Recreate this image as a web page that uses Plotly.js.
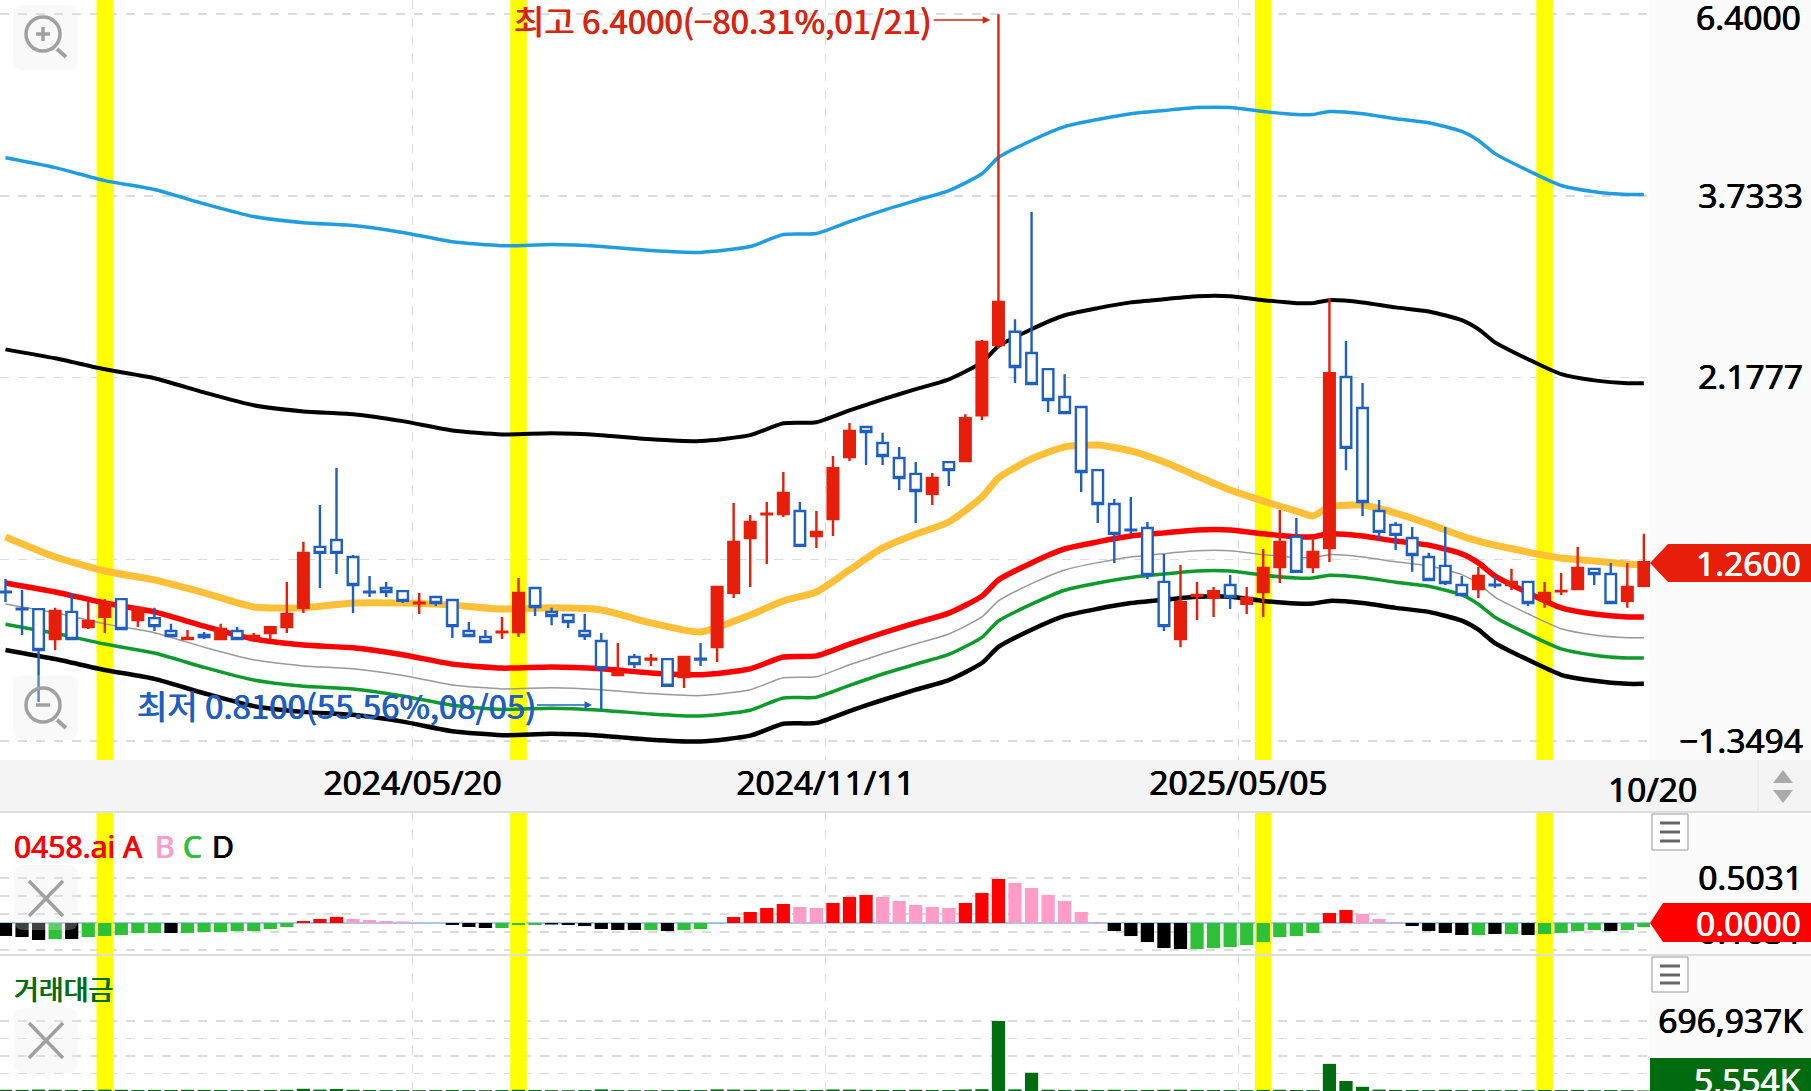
<!DOCTYPE html>
<html><head><meta charset="utf-8">
<script src="https://cdn.plot.ly/plotly-3.0.1.min.js"></script>
<style>html,body{margin:0;padding:0;background:#fff;overflow:hidden}</style>
</head><body><div id="chart" style="width:1811px;height:1091px"></div>
<script>
const opens=[1.154,1.097,1.096,1.003,1.087,1.039,1.071,1.129,1.061,1.067,1.027,1.003,1.015,1.003,1.027,1.006,1.021,1.039,1.100,1.318,1.345,1.279,1.154,1.167,1.156,1.115,1.136,1.126,1.027,1.009,1.023,1.024,1.167,1.087,1.077,1.027,.997,.901,.951,.944,.945,.896,.946,.979,1.150,1.353,1.452,1.453,1.466,1.361,1.432,1.721,1.881,1.794,1.716,1.637,1.543,1.695,1.700,1.948,2.399,2.495,2.343,2.233,2.056,1.996,1.655,1.497,1.387,1.394,1.188,1.003,1.139,1.133,1.177,1.113,1.153,1.242,1.358,1.242,1.314,2.182,1.990,1.466,1.407,1.353,1.279,1.246,1.177,1.163,1.178,1.177,1.188,1.126,1.155,1.163,1.235,1.216,1.123,1.174];
const highs=[1.198,1.160,1.096,1.100,1.150,1.119,1.129,1.129,1.103,1.100,1.049,1.030,1.024,1.049,1.039,1.021,1.039,1.188,1.338,1.492,1.665,1.287,1.209,1.188,1.156,1.150,1.136,1.126,1.055,1.030,1.071,1.202,1.167,1.100,1.077,1.080,1.021,.991,.959,.959,.945,.951,.991,1.170,1.501,1.449,1.506,1.646,1.506,1.466,1.726,1.904,1.881,1.849,1.773,1.695,1.641,1.695,1.954,2.435,6.400,2.590,3.558,2.233,2.200,1.996,1.655,1.519,1.528,1.419,1.291,1.249,1.188,1.170,1.213,1.170,1.310,1.471,1.436,1.353,2.756,2.428,2.143,1.515,1.419,1.398,1.295,1.398,1.209,1.242,1.209,1.235,1.191,1.188,1.220,1.318,1.235,1.257,1.257,1.370];
const lows=[1.119,1.015,.832,.971,1.003,1.033,1.021,1.033,1.039,1.027,1.012,1.000,1.003,1.003,1.003,1.003,1.003,1.021,1.083,1.167,1.216,1.083,1.136,1.136,1.116,1.080,1.106,1.006,1.012,.994,1.003,1.009,1.074,1.045,1.036,1.000,.813,.901,.920,.926,.873,.867,.926,.937,1.133,1.170,1.253,1.440,1.318,1.314,1.361,1.700,1.680,1.680,1.560,1.415,1.492,1.579,1.700,1.920,2.376,2.143,2.137,1.966,1.960,1.551,1.415,1.257,1.370,1.198,1.027,.979,1.061,1.071,1.096,1.080,1.071,1.184,1.224,1.220,1.260,1.655,1.445,1.349,1.306,1.224,1.195,1.177,1.143,1.133,1.167,1.160,1.106,1.100,1.143,1.163,1.177,1.116,1.100,1.174];
const closes=[1.152,1.095,.971,1.090,1.003,1.058,1.116,1.033,1.100,1.042,1.012,1.006,1.009,1.033,1.003,1.012,1.039,1.080,1.295,1.295,1.295,1.177,1.152,1.153,1.123,1.117,1.116,1.042,1.012,.994,1.025,1.150,1.103,1.074,1.055,1.012,.920,.909,.931,.946,.873,.951,.944,1.170,1.338,1.419,1.454,1.547,1.322,1.378,1.665,1.859,1.853,1.726,1.617,1.556,1.617,1.655,1.931,2.421,2.726,2.247,2.137,2.038,1.960,1.646,1.497,1.370,1.385,1.213,1.042,1.119,1.143,1.156,1.136,1.133,1.238,1.338,1.224,1.298,2.207,1.768,1.506,1.378,1.366,1.287,1.195,1.184,1.143,1.209,1.176,1.188,1.116,1.150,1.157,1.238,1.216,1.116,1.170,1.260];

const lineIdx=[0,3,6,9,12,15,18,21,24,27,30,33,36,39,42,45,47,49,51,53,55,57,59,60,62,64,66,68,70,72,74,76,78,79,80,82,84,86,88,89,90,92,94,96,98,99];
const bandBlue=[4.180,4.060,3.906,3.805,3.647,3.511,3.448,3.420,3.350,3.259,3.220,3.231,3.213,3.175,3.157,3.213,3.329,3.339,3.458,3.574,3.682,3.791,3.987,4.183,4.400,4.585,4.683,4.764,4.809,4.851,4.851,4.795,4.753,4.753,4.795,4.764,4.694,4.638,4.519,4.400,4.232,4.025,3.850,3.780,3.749,3.749];
const bandUpper=[2.368,2.306,2.232,2.174,2.084,2.006,1.970,1.954,1.914,1.862,1.840,1.846,1.836,1.814,1.804,1.836,1.902,1.908,1.976,2.042,2.104,2.166,2.278,2.390,2.514,2.620,2.676,2.722,2.748,2.772,2.772,2.740,2.716,2.716,2.740,2.722,2.682,2.650,2.582,2.514,2.418,2.300,2.200,2.160,2.142,2.142];
const maOrange=[1.357,1.279,1.227,1.195,1.150,1.103,1.100,1.116,1.116,1.109,1.096,1.100,1.093,1.052,1.024,1.077,1.123,1.153,1.231,1.314,1.369,1.419,1.528,1.617,1.711,1.773,1.783,1.752,1.695,1.626,1.560,1.510,1.466,1.445,1.484,1.492,1.457,1.411,1.361,1.341,1.325,1.298,1.275,1.264,1.253,1.249];
const bandRed=[1.184,1.153,1.116,1.087,1.042,1.003,.985,.977,.957,.931,.920,.923,.918,.907,.902,.918,.951,.954,.988,1.021,1.052,1.083,1.139,1.195,1.257,1.310,1.338,1.361,1.374,1.386,1.386,1.370,1.358,1.358,1.370,1.361,1.341,1.325,1.291,1.257,1.209,1.150,1.100,1.080,1.071,1.071];
const bandGray=[1.113,1.084,1.049,1.022,.979,.943,.926,.918,.900,.875,.865,.868,.863,.853,.848,.863,.894,.897,.929,.960,.989,1.018,1.071,1.123,1.182,1.231,1.258,1.279,1.292,1.303,1.303,1.288,1.277,1.277,1.288,1.279,1.261,1.246,1.214,1.182,1.136,1.081,1.034,1.015,1.007,1.007];
const bandGreen=[1.048,1.020,.988,.962,.922,.888,.872,.865,.847,.824,.814,.817,.812,.803,.798,.812,.842,.844,.874,.904,.931,.958,1.008,1.058,1.112,1.159,1.184,1.204,1.216,1.227,1.227,1.212,1.202,1.202,1.212,1.204,1.187,1.173,1.143,1.112,1.070,1.018,.974,.956,.948,.948];
const bandLower=[.971,.945,.915,.891,.854,.822,.808,.801,.785,.763,.754,.757,.753,.744,.740,.753,.780,.782,.810,.837,.863,.888,.934,.980,1.031,1.074,1.097,1.116,1.127,1.137,1.137,1.123,1.114,1.114,1.123,1.116,1.100,1.087,1.059,1.031,.991,.943,.902,.886,.878,.878];

const oscValues=[-.145,-.157,-.19,-.179,-.179,-.157,-.145,-.134,-.112,-.112,-.112,-.112,-.101,-.101,-.09,-.09,-.067,-.045,.022,.045,.067,.045,.034,.022,.017,.005,.003,-.022,-.045,-.056,-.056,-.022,-.022,-.017,-.022,-.034,-.067,-.078,-.078,-.078,-.09,-.078,-.067,-.003,.067,.123,.168,.213,.179,.168,.224,.291,.314,.291,.246,.202,.179,.168,.224,.336,.492,.448,.392,.314,.246,.123,.011,-.09,-.146,-.213,-.28,-.291,-.291,-.28,-.269,-.246,-.213,-.157,-.146,-.112,.112,.146,.101,.045,.011,-.034,-.09,-.112,-.134,-.134,-.123,-.123,-.134,-.123,-.112,-.09,-.078,-.09,-.078,-.045];
const oscState=("DDDCDCCCCCDCCCCCCC"+"AAA"+"BBBBBB"+"DDD"+"CCC"+"DDDDDD"+"CDCCC"+"AAAA"+"BB"+"AAA"+"BBBBB"+"AAA"+"BBBBBB"+"DDDDD"+"CCCCCCCC"+"AA"+"BBB"+"DDDD"+"CDCD"+"CCCC"+"D"+"CC").split("");
const volumes=[12000,11000,14000,12000,11000,10000,13000,12000,10000,11000,10000,12000,11000,10000,9000,10000,11000,12000,22000,14000,20000,12000,10000,9000,9000,8000,9000,10000,9000,8000,9000,12000,10000,9000,8000,9000,16000,9000,8000,8000,9000,10000,9000,16000,14000,12000,13000,12000,11000,10000,15000,14000,12000,11000,11000,12000,10000,10000,15000,18000,696937,16000,182000,13000,11000,12000,10000,12000,9000,11000,12000,13000,11000,10000,9000,9000,11000,12000,10000,9000,270000,100000,42000,14000,11000,10000,9000,12000,9000,10000,9000,9000,9000,10000,9000,11000,8000,9000,9000,5554];

const priceTicks=[6.4,3.7333,2.1777,1.27,0.741];
const priceTickText=["","3.7333","2.1777","","−1.3494"];
const oscTicks=[.5031,.3019,.1006,-.1006,-.3019];
const oscTickText=["0.5031","","","−0.1031",""];
const volTicks=[174234,348468,522703,696937];
const volTickText=["","","","696,937K"];
const dateTicks=[24.6,49.55,74.5];
const dateLabels=["2024/05/20","2024/11/11","2025/05/05"];
const highlightBars=[6,31,76,93];

const W=1811,H=1091,PLOT_R=1650;
const fx=x=>x/W, fy=y=>1-y/H;
const dom=(t,b)=>[1-b/H,1-t/H];
const xRange=[-0.332,99.37];
const FONT='"Noto Sans","Noto Sans CJK KR",sans-serif';
const KR='"Noto Sans CJK KR","Noto Sans",sans-serif';
const GRID='#dcdcdc';
const idx=opens.map((_,i)=>i);
const oscColor={A:'#ff0000',B:'#ff9cc8',C:'#2ec038',D:'#000000'};
const thick=c=>'0.45px 0 0 '+c+',-0.45px 0 0 '+c;

function line(y,color,width){return {type:'scatter',mode:'lines',x:lineIdx,y:y,xaxis:'x',yaxis:'y',line:{color:color,width:width,shape:'spline',smoothing:0.6},hoverinfo:'skip'};}
const traces=[
 line(bandBlue,'#1f9de0',3.5),
 line(bandUpper,'#000000',4),
 line(maOrange,'#ffbf36',7),
 line(bandGray,'#999999',1.5),
 line(bandGreen,'#0f9a2c',3.5),
 line(bandLower,'#000000',4.5),
 line(bandRed,'#ff0000',5.5),
 {type:'candlestick',x:idx,open:opens,high:highs,low:lows,close:closes,xaxis:'x',yaxis:'y4',
  whiskerwidth:0,line:{width:2.4},
  increasing:{line:{color:'#e61e0a',width:2.4},fillcolor:'#e61e0a'},
  decreasing:{line:{color:'#1f5fc4',width:2.4},fillcolor:'#ffffff'},hoverinfo:'skip'},
 {type:'bar',x:idx,y:oscValues,xaxis:'x2',yaxis:'y2',width:0.8,marker:{color:oscState.map(s=>oscColor[s]),line:{width:0}},hoverinfo:'skip'},
 {type:'bar',x:idx,y:volumes,xaxis:'x3',yaxis:'y3',width:0.8,marker:{color:'#006b0f',line:{width:0}},hoverinfo:'skip'}
];

const rect=(x0,y0,x1,y1,fill,layer,lineCol)=>({type:'rect',xref:'paper',yref:'paper',x0:fx(x0),x1:fx(x1),y0:fy(y1),y1:fy(y0),fillcolor:fill,layer:layer||'below',line:lineCol?{color:lineCol,width:1}:{width:0}});
const seg=(x0,y0,x1,y1,c,w)=>({type:'line',xref:'paper',yref:'paper',x0:fx(x0),x1:fx(x1),y0:fy(y0),y1:fy(y1),line:{color:c,width:w},layer:'above'});
const poly=(pts,fill)=>({type:'path',xref:'paper',yref:'paper',layer:'above',fillcolor:fill,line:{width:0},
  path:pts.map((p,i)=>(i?'L':'M')+fx(p[0])+','+fy(p[1])).join(' ')+' Z'});
const circle=(cx,cy,r,c,w)=>({type:'circle',xref:'paper',yref:'paper',layer:'above',x0:fx(cx-r),x1:fx(cx+r),y0:fy(cy+r),y1:fy(cy-r),line:{color:c,width:w},fillcolor:'rgba(0,0,0,0)'});
const P=(x,y)=>fx(x)+','+fy(y);
const iconBg=(x0,y0,x1,y1)=>{const r=10;return {type:'path',xref:'paper',yref:'paper',layer:'above',fillcolor:'rgba(235,235,235,0.28)',line:{width:0},
  path:'M'+P(x0+r,y0)+' L'+P(x1-r,y0)+' Q'+P(x1,y0)+' '+P(x1,y0+r)+' L'+P(x1,y1-r)+' Q'+P(x1,y1)+' '+P(x1-r,y1)+' L'+P(x0+r,y1)+' Q'+P(x0,y1)+' '+P(x0,y1-r)+' L'+P(x0,y0+r)+' Q'+P(x0,y0)+' '+P(x0+r,y0)+' Z'};};
const ICON='#a0a0a0';

const shapes=[
 rect(PLOT_R,0,W,H,'#fbfbfb','below'),
 rect(0,760,W,812,'#f4f4f4','below'),
 seg(0,812,W,812,'#dddddd',2),
 seg(0,955,W,955,'#dddddd',2),
 seg(1758,760,1758,812,'#e6e6e6',1),
 poly([[1783,770],[1773,783],[1793,783]],'#aaaaaa'),
 poly([[1773,790],[1793,790],[1783,803]],'#aaaaaa'),
 poly([[1650,563],[1668,544],[W,544],[W,582],[1668,582]],'#e61e0a'),
 poly([[1650,923],[1663,903],[W,903],[W,942],[1663,942]],'#ff0000'),
 rect(1650,1058,W,H,'#006b0f','above'),
 iconBg(13,5,78,70),circle(43,34,17,ICON,3.5),seg(57,49,66,57,ICON,4),seg(36,34,50,34,ICON,3.5),seg(43,27,43,41,ICON,3.5),
 iconBg(13,675,78,740),circle(43,705,17,ICON,3.5),seg(57,720,66,728,ICON,4),seg(36,705,50,705,ICON,3.5),
 iconBg(14,865,78,930),seg(29,881,63,916,ICON,3.5),seg(63,881,29,916,ICON,3.5),
 iconBg(14,1008,78,1073),seg(29,1023,63,1058,ICON,3.5),seg(63,1023,29,1058,ICON,3.5),
 rect(1652,814,1688,850,'#ffffff','above','#999999'),seg(1660,823,1680,823,'#666666',3),seg(1660,832,1680,832,'#666666',3),seg(1660,841,1680,841,'#666666',3),
 rect(1652,957,1688,992,'#ffffff','above','#999999'),seg(1660,966,1680,966,'#666666',3),seg(1660,975,1680,975,'#666666',3),seg(1660,983,1680,983,'#666666',3)
];
highlightBars.forEach(i=>{
 [['x','y',0.3,12],['x2','y2',-1,2],['x3','y3',-10000,2000000]].forEach(a=>{
  shapes.push({type:'rect',xref:a[0],yref:a[1],x0:i-0.5,x1:i+0.5,y0:a[2],y1:a[3],fillcolor:'#ffff00',line:{width:0},layer:'between'});
 });
});

const note=(text,x,y,size,color,anchor,family)=>({text:text,xref:'paper',yref:'paper',x:fx(x),y:fy(y),xanchor:anchor||'right',yanchor:'middle',showarrow:false,font:{size:size,color:color,family:family||FONT,shadow:thick(color)}});
const annotations=[
 note('6.4000',1803,17,33.5,'#000000'),
 note('1.2600',1803,563,33.5,'#ffffff'),
 note('0.0000',1803,923,33.5,'#ffffff'),
 note('5,554K',1803,1080,33.5,'#ffffff'),
 note('10/20',1652,789,33.5,'#000000','center'),
 note('0458.ai A',12,846,30,'#ff0000','left'),
 note('B',153,846,30,'#ff9cc8','left'),
 note('C',181,846,30,'#2ec038','left'),
 note('D',210,846,30,'#000000','left'),
 note('거래대금',12,988,27,'#006b0f','left',KR),
 {text:'최고 6.4000(−80.31%,01/21)',xref:'x',yref:'paper',x:59.5,y:fy(20),ax:-267,ay:0,axref:'pixel',ayref:'pixel',showarrow:true,arrowhead:2,arrowsize:1,arrowwidth:1.5,arrowcolor:'#d9230f',font:{size:33,color:'#d9230f',family:KR,shadow:thick('#d9230f')}},
 {text:'최저 0.8100(55.56%,08/05)',xref:'x',yref:'paper',x:35.44,y:fy(705),ax:-256,ay:0,axref:'pixel',ayref:'pixel',showarrow:true,arrowhead:2,arrowsize:1,arrowwidth:1.5,arrowcolor:'#1f5fc4',font:{size:33,color:'#1f5fc4',family:KR,shadow:thick('#1f5fc4')}}
];

const xBase={range:xRange,domain:[0,PLOT_R/W],tickmode:'array',tickvals:dateTicks,showgrid:true,gridcolor:GRID,griddash:'dash',gridwidth:1.5,zeroline:false,showline:false,fixedrange:true};
const tickFont={size:33.5,color:'#000',family:FONT,shadow:thick('#000')};
const yBase={anchor:'free',position:1803/W,side:'left',showgrid:true,gridcolor:GRID,griddash:'dash',gridwidth:1.5,zeroline:false,showline:false,ticklen:0,tickmode:'array',ticklabeloverflow:'allow',tickfont:tickFont,fixedrange:true};

const layout={
 width:W,height:H,margin:{l:0,r:0,t:0,b:0},autosize:false,showlegend:false,
 paper_bgcolor:'#ffffff',plot_bgcolor:'#ffffff',boxgap:0.36,boxgroupgap:0,bargap:0.2,
 font:{family:FONT},hovermode:false,
 xaxis:Object.assign({},xBase,{anchor:'y',ticktext:dateLabels,showticklabels:true,ticks:'',ticklen:0,tickfont:tickFont,rangeslider:{visible:false}}),
 xaxis2:Object.assign({},xBase,{anchor:'y2',showticklabels:false}),
 xaxis3:Object.assign({},xBase,{anchor:'y3',showticklabels:false}),
 yaxis:Object.assign({},yBase,{type:'log',domain:dom(0,760),range:[-0.15457,0.8244],tickvals:priceTicks,ticktext:priceTickText}),
 yaxis4:{type:'log',domain:dom(0,760),range:[-0.15457,0.8244],overlaying:'y',anchor:'x',side:'right',visible:false,showgrid:false,fixedrange:true},
 yaxis2:Object.assign({},yBase,{domain:dom(812,956),range:[-.369,1.241],tickvals:oscTicks,ticktext:oscTickText,zeroline:true,zerolinecolor:'#a8c8e8',zerolinewidth:2}),
 yaxis3:Object.assign({},yBase,{domain:dom(956,1091),range:[0,1344060],tickvals:volTicks,ticktext:volTickText}),
 shapes:shapes,annotations:annotations
};
Plotly.newPlot('chart',traces,layout,{displayModeBar:false,staticPlot:true});
</script></body></html>
